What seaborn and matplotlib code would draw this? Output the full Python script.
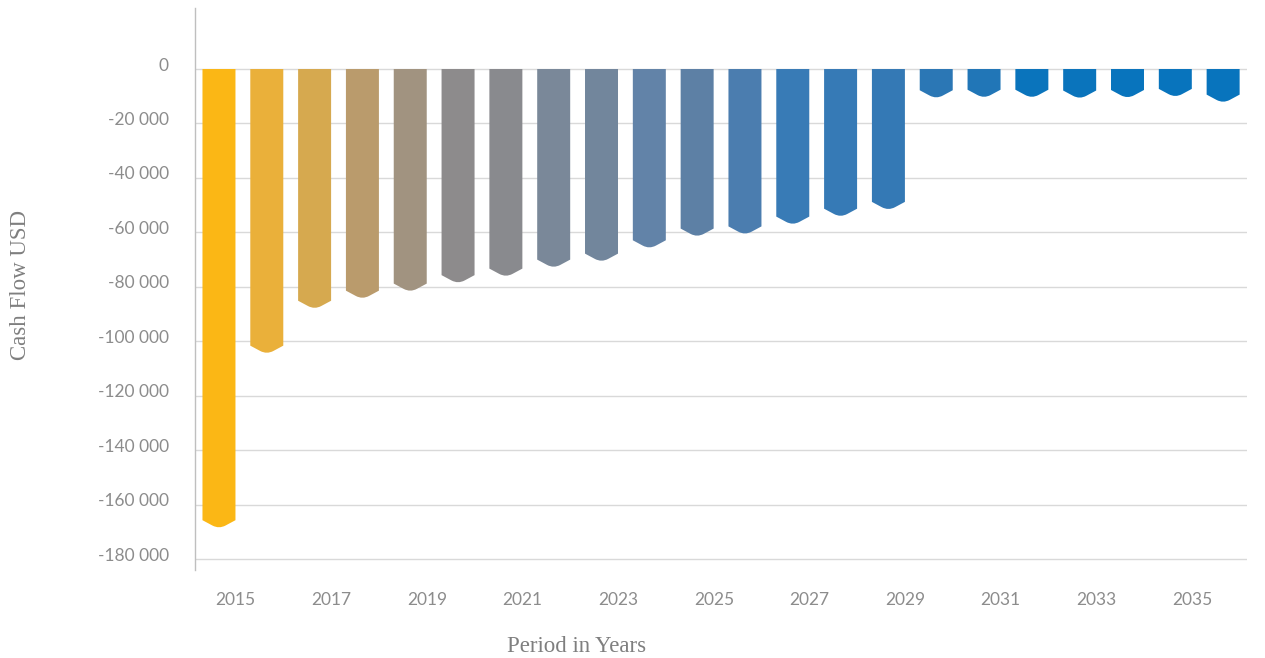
import numpy as np
import matplotlib
matplotlib.use("Agg")
import matplotlib.pyplot as plt
import matplotlib.transforms as mtransforms
from matplotlib.path import Path
from matplotlib.patches import PathPatch
from matplotlib.ticker import FuncFormatter
import seaborn as sns

# data
years = [str(y) for y in range(2015, 2037)]
cash_flow = [-168300, -104200, -87700, -84000, -81400, -78300, -75900, -72600,
             -70400, -65500, -61200, -60400, -56800, -53900, -51400,
             -10400, -10200, -10200, -10500, -10300, -9900, -12000]
bar_colors = ['#FBB715', '#EAB03A', '#D6A94F', '#BA9B6C', '#A19380', '#8D8B8C',
              '#898A8E', '#7A8899', '#72869C', '#6283A8', '#5D80A5', '#4B7DAF',
              '#387BB6', '#367AB6', '#3479B5', '#2B77B5', '#2176B7', '#0A74BC',
              '#0A74BC', '#0874BD', '#0874BD', '#0874BD']
y_ticks = list(range(-180000, 1, 20000))

sns.set_style("white")
plt.rcParams['font.family'] = ['Lato', 'DejaVu Sans']

fig = plt.figure(figsize=(12.65, 6.58), dpi=100)
ax = fig.add_axes([0.1542, 0.1337, 0.8316, 0.8541])

sns.barplot(x=years, y=cash_flow, hue=years, palette=bar_colors, saturation=1,
            legend=False, width=0.69, linewidth=0, ax=ax)

# turn every rectangle into a bar with a chevron-shaped bottom
depth = 2600
for rect in list(ax.patches):
    x0 = rect.get_x()
    w = rect.get_width()
    b = rect.get_y() + rect.get_height()
    cx = x0 + w / 2
    apex = b - 0.25 * depth
    side = b + depth
    def on_line(xx):
        return apex + (side - apex) * abs(xx - cx) / (w / 2)
    verts = [(x0, 0), (x0, side), (cx - 0.2 * w, on_line(cx - 0.2 * w)),
             (cx, apex), (cx + 0.2 * w, on_line(cx + 0.2 * w)),
             (x0 + w, side), (x0 + w, 0), (x0, 0)]
    codes = [Path.MOVETO, Path.LINETO, Path.LINETO, Path.CURVE3, Path.CURVE3,
             Path.LINETO, Path.LINETO, Path.CLOSEPOLY]
    ax.add_patch(PathPatch(Path(verts, codes), facecolor=rect.get_facecolor(),
                           edgecolor='none', zorder=3))
    rect.remove()

ax.set_xlim(-0.5, 21.5)
ax.set_ylim(-184000, 22400)
ax.set_yticks(y_ticks)
ax.yaxis.set_major_formatter(FuncFormatter(lambda v, p: f"{v:,.0f}".replace(",", " ")))
ax.yaxis.grid(True, color='#D9D9D9', linewidth=1)
ax.set_axisbelow(True)

tick_pos = [i + 0.35 for i in range(0, len(years) - 1, 2)]
ax.set_xticks(tick_pos)
ax.set_xticklabels(years[0:len(years) - 1:2])

ax.tick_params(axis='y', length=0, pad=19, labelsize=12.5, labelcolor='#8C8C8C')
ax.tick_params(axis='x', length=0, pad=16, labelsize=12.5, labelcolor='#8C8C8C')

# y labels sit a little above their grid lines
shift = mtransforms.ScaledTranslation(0, 5 / 100, fig.dpi_scale_trans)
for lab in ax.get_yticklabels():
    lab.set_transform(lab.get_transform() + shift)

for s in ['top', 'right', 'bottom']:
    ax.spines[s].set_visible(False)
ax.spines['left'].set_color('#BFBFBF')
ax.spines['left'].set_linewidth(1)

ax.set_ylabel('Cash Flow USD', family='Liberation Serif', fontsize=16.5, color='#7F7F7F')
ax.set_xlabel('Period in Years', family='Liberation Serif', fontsize=16.5, color='#7F7F7F')
ax.yaxis.set_label_coords(-0.156, 0.507)
ax.xaxis.set_label_coords(0.363, -0.117)

fig.savefig('out.png', dpi=100)
